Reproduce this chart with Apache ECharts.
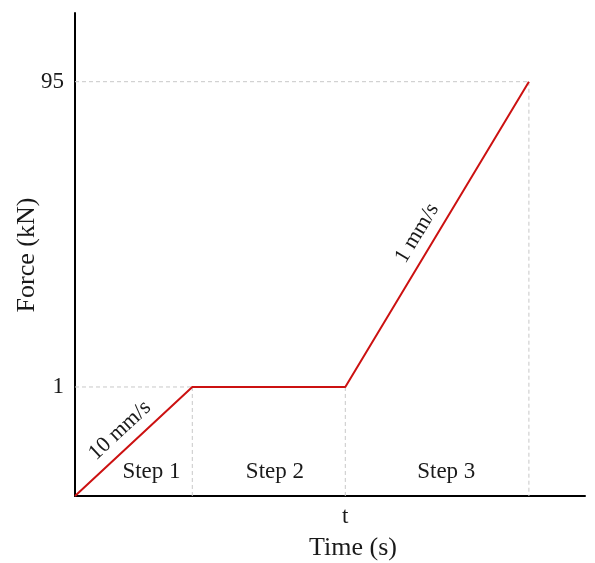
<!DOCTYPE html>
<html><head><meta charset="utf-8">
<script src="https://cdn.jsdelivr.net/npm/echarts@6/dist/echarts.min.js"></script>
<style>html,body{margin:0;padding:0;background:#fff}#c{width:595px;height:563px}</style>
</head><body><div id="c"></div>
<script>
// Schematic data
const timePoints = [0, 23, 53, 89];          // time (schematic units)
const forceValues = [0, 1, 1, 95];           // kN
const forceLevels = {0: 0, 1: 1, 95: 3.8};   // schematic vertical position of each force level
const yTickForces = [1, 95];
const xTickTimes = [53];
const xTickLabels = ['t'];
const stepLabels = ['Step 1', 'Step 2', 'Step 3'];
const stepX = [15, 39.2, 72.8];
const stepLevel = 0.22;
const rateLabels = ['10 mm/s', '1 mm/s'];
const rateX = [8.8, 67.1];
const rateLevel = [0.6, 2.41];

const FONT = 'Liberation Serif';
const fs = 23;
const fsTitle = 26;
const TXT = '#1a1a1a';
const lvl = f => forceLevels[f];
const linePts = timePoints.map((t, i) => [t, lvl(forceValues[i])]);

// guide lines (dashed) from corners
const guides = [];
[1, 3].forEach(i => {
  guides.push([[0, linePts[i][1]], linePts[i]]);
});
[1, 2, 3].forEach(i => {
  guides.push([linePts[i], [linePts[i][0], 0]]);
});

const series = [];
guides.forEach(g => series.push({
  type: 'line', data: g, symbol: 'none', silent: true,
  lineStyle: {color: '#c8c8c8', width: 1, type: [4, 3]}, z: 1
}));
series.push({
  type: 'line', data: linePts, symbol: 'none',
  lineStyle: {color: '#cc1111', width: 2}, z: 3
});
series.push({
  type: 'scatter', symbolSize: 0, silent: true, itemStyle: {opacity: 1},
  data: stepLabels.map((s, i) => ({value: [stepX[i], stepLevel], name: s})),
  label: {show: true, position: 'inside', formatter: p => p.name, opacity: 1,
    fontFamily: FONT, fontSize: fs, color: TXT, textBorderWidth: 0}
});
const rateAngles = [43, 59];
rateLabels.forEach((s, i) => series.push({
  type: 'scatter', symbolSize: 0, silent: true, itemStyle: {opacity: 1},
  data: [{value: [rateX[i], rateLevel[i]], name: s}],
  label: {show: true, position: 'inside', formatter: p => p.name, rotate: rateAngles[i], opacity: 1,
    fontFamily: FONT, fontSize: 22, color: TXT, textBorderWidth: 0}
}));

const chart = echarts.init(document.getElementById('c'), null, {renderer: 'canvas'});
chart.setOption({
  animation: false,
  backgroundColor: '#fff',
  grid: {left: 75, top: 13, right: 10, bottom: 67, containLabel: false},
  xAxis: {
    type: 'value', min: 0, max: 100,
    axisLine: {show: true, lineStyle: {color: '#000', width: 2}},
    axisTick: {show: false},
    splitLine: {show: false},
    axisLabel: {customValues: xTickTimes, formatter: v => xTickLabels[xTickTimes.indexOf(v)] || '',
      fontFamily: FONT, fontSize: fs, color: TXT, margin: 9}
  },
  yAxis: {
    type: 'value', min: 0, max: 4.43,
    axisLine: {show: true, lineStyle: {color: '#000', width: 2}},
    axisTick: {show: false},
    splitLine: {show: false},
    axisLabel: {customValues: yTickForces.map(lvl),
      formatter: v => { const f = yTickForces.find(k => Math.abs(lvl(k) - v) < 1e-6); return f === undefined ? '' : String(f); },
      fontFamily: FONT, fontSize: fs, color: TXT, margin: 11}
  },
  graphic: [
    {type: 'text', x: 353, y: 548,
     style: {text: 'Time (s)', font: fsTitle + 'px "' + FONT + '"', fill: TXT, align: 'center', verticalAlign: 'middle'}},
    {type: 'text', x: 27, y: 255, rotation: Math.PI / 2,
     style: {text: 'Force (kN)', font: fsTitle + 'px "' + FONT + '"', fill: TXT, align: 'center', verticalAlign: 'middle'}}
  ],
  series: series
});
</script></body></html>
